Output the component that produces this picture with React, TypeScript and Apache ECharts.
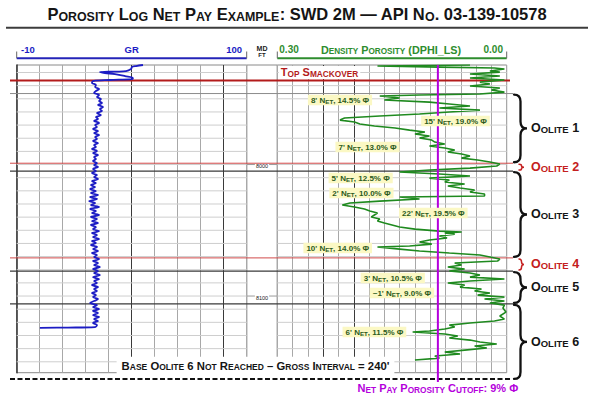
import React, { useEffect, useRef } from 'react';
import * as echarts from 'echarts';

// ---------------- DATA ----------------
const TITLE = 'Porosity Log Net Pay Example: SWD 2M — API No. 03-139-10578';
const GR_MIN = -10;
const GR_MAX = 100;
const PHI_MIN = 0;
const PHI_MAX = 0.3;
const DEPTH_TOP = 7924.3;
const DEPTH_BASE = 8158.3;
const TD_DEPTH = 8163;
const CUTOFF_PHI = 0.09;

const GRID_DEPTHS = [7930, 7940, 7950, 7960, 7970, 7980, 7990, 8000, 8010, 8020, 8030, 8040, 8050, 8060, 8070, 8080, 8090, 8100, 8110, 8120, 8130, 8140, 8150];
const MD_LABEL_DEPTHS = [8000, 8100];

const FORMATION_NAMES = ['Top Smackover', 'Oolite 1', 'Oolite 2', 'Oolite 3', 'Oolite 4', 'Oolite 5', 'Oolite 6'];
const FORMATION_TOPS = [7936, 7946, 7999, 8005, 8071, 8081, 8106];

const NET_PAY_TEXT = ["8' Net, 14.5% Φ", "15' Net, 19.0% Φ", "7' Net, 13.0% Φ", "5' Net, 12.5% Φ", "2' Net, 10.0% Φ", "22' Net, 19.5% Φ", "10' Net, 14.0% Φ", "3' Net, 10.5% Φ", "~1' Net, 9.0% Φ", "6' Net, 11.5% Φ"];
const NET_PAY_LABEL_PHI = [0.218, 0.067, 0.182, 0.191, 0.190, 0.096, 0.221, 0.149, 0.137, 0.173];
const NET_PAY_LABEL_DEPTH = [7950.9, 7966.9, 7986.7, 8010.3, 8021.7, 8036.9, 8063.5, 8086.3, 8097.7, 8127.4];

// Gamma ray: [depth ft, GR API]
const GR_CURVE: [number, number][] = [
  [7924.3, 50.4], [7925.1, 47.1], [7925.9, 45.1], [7927.4, 44.7], [7928.9, 42.3], [7929.7, 29.8], [7930.4, 32.2], [7931.2, 37.0], [7932.7, 41.8], [7934.2, 45.6], [7935.0, 45.1], [7935.7, 34.6], [7936.5, 26.5],
  [7938.0, 26.0], [7939.5, 27.9], [7941.1, 27.5], [7942.6, 29.4], [7944.1, 27.9], [7945.6, 27.0], [7947.1, 29.4], [7948.7, 28.4], [7950.2, 30.3], [7951.7, 29.4], [7953.2, 30.8], [7954.7, 28.9], [7956.3, 31.3], [7957.8, 29.8], [7959.3, 30.8], [7960.8, 28.4], [7962.4, 30.3], [7963.9, 27.9], [7965.4, 28.9], [7966.9, 27.0], [7968.4, 29.4], [7970.0, 27.5], [7971.5, 28.4], [7973.0, 26.5], [7974.5, 28.9], [7976.1, 27.0], [7977.6, 29.4], [7979.1, 27.5], [7980.6, 28.4], [7982.1, 26.5], [7983.7, 28.9], [7985.2, 27.0], [7986.7, 27.9], [7988.2, 26.0], [7989.7, 28.4], [7991.3, 26.5], [7992.8, 28.9], [7994.3, 27.0], [7995.8, 27.9], [7997.3, 26.5], [7998.9, 28.4],
  [8000.4, 27.0], [8001.9, 28.9], [8003.4, 26.5], [8005.0, 27.9], [8006.5, 26.0], [8008.0, 28.4], [8009.5, 27.0], [8011.0, 28.9], [8012.6, 26.0], [8014.1, 27.9], [8015.6, 25.5], [8017.1, 27.5], [8018.6, 25.1], [8020.2, 27.9], [8021.7, 25.5], [8023.2, 28.9], [8024.7, 25.1], [8026.2, 28.4], [8027.8, 24.6], [8029.3, 27.5], [8030.8, 25.5], [8032.3, 29.4], [8033.8, 25.1], [8035.4, 27.9], [8036.9, 26.0], [8038.4, 29.4], [8039.9, 25.5], [8041.4, 28.4], [8043.0, 26.0], [8044.5, 28.9], [8046.0, 25.5], [8047.5, 27.9], [8049.1, 26.5], [8050.6, 29.4],
  [8052.1, 26.0], [8053.6, 28.4], [8055.1, 26.5], [8056.7, 29.4], [8058.2, 26.0], [8059.7, 27.9], [8061.2, 25.5], [8062.7, 28.4], [8064.3, 26.5], [8065.8, 28.9], [8067.3, 26.0], [8068.8, 28.4], [8070.3, 27.0], [8071.9, 29.4], [8073.4, 26.5], [8074.9, 28.9], [8076.4, 27.0], [8077.9, 29.8], [8079.5, 26.5], [8081.0, 28.9], [8082.5, 27.0], [8084.0, 29.8], [8085.6, 26.5], [8087.1, 29.4], [8088.6, 27.0], [8090.1, 28.4], [8091.6, 26.0], [8093.2, 28.9], [8094.7, 27.0], [8096.2, 28.4], [8097.7, 26.0], [8099.3, 27.9],
  [8100.8, 26.5], [8102.3, 28.9], [8103.8, 27.0], [8105.3, 25.1], [8106.9, 28.4], [8108.4, 26.5], [8109.9, 29.4], [8111.4, 26.5], [8112.9, 28.9], [8114.5, 26.5], [8116.0, 29.4], [8117.5, 27.0], [8119.0, 28.9], [8120.5, 26.5], [8122.1, 28.4], [8123.6, 27.5], [8124.0, 14.5], [8124.2, 1.1],
];

// Density porosity (DPHI_LS), fraction
const DPHI_DEPTH = [
  7924.3, 7925.1, 7925.9, 7926.6, 7927.4, 7928.9, 7929.7, 7931.2, 7932.7, 7934.2, 7935.7, 7937.3, 7938.8, 7940.3, 7941.8, 7943.3, 7944.9, 7946.4, 7947.1, 7947.9,
  7949.4, 7950.9, 7952.5, 7954.0, 7955.5, 7957.0, 7958.6, 7960.1, 7961.6, 7963.1, 7964.6, 7966.2, 7967.7, 7969.2, 7970.7, 7972.2, 7973.8, 7975.3, 7976.8, 7978.3,
  7979.8, 7981.4, 7982.9, 7984.4, 7985.9, 7987.4, 7989.0, 7990.5, 7992.0, 7993.5, 7995.1, 7996.6, 7998.1, 7999.6, 8001.1, 8002.7, 8004.2, 8005.7, 8007.2, 8008.7,
  8010.3, 8011.8, 8013.3, 8014.8, 8016.3, 8017.9, 8019.4, 8020.9, 8022.4, 8023.9, 8024.7, 8026.2, 8027.8, 8029.3, 8030.8, 8032.3, 8033.8, 8035.4, 8036.9, 8038.4,
  8039.9, 8041.4, 8043.0, 8044.5, 8046.0, 8047.5, 8049.1, 8050.6, 8051.3, 8052.1, 8052.9, 8054.4, 8055.9, 8057.4, 8058.9, 8060.5, 8062.0, 8062.7, 8064.3, 8065.8,
  8067.3, 8068.8, 8070.3, 8071.9, 8073.4, 8074.9, 8076.4, 8077.9, 8079.5, 8081.0, 8082.5, 8084.0, 8085.6, 8087.1, 8088.6, 8090.1, 8091.6, 8093.2, 8094.7, 8096.2,
  8097.7, 8099.3, 8100.8, 8102.3, 8103.8, 8105.3, 8106.9, 8109.1, 8112.2, 8115.2, 8117.5, 8119.0, 8120.5, 8122.1, 8123.6, 8125.1, 8126.6, 8127.4, 8128.9, 8130.4,
  8131.9, 8133.5, 8135.0, 8136.5, 8138.0, 8139.5, 8141.1, 8142.6, 8144.1, 8145.6, 8147.2, 8148.7,
];
const DPHI_VALUE = [
  0.048, 0.169, 0.088, 0.016, 0.003, 0.022, 0.009, 0.048, 0.009, 0.048, 0.003, 0.035, 0.022, 0.048, 0.009, 0.020, 0.003, 0.035, 0.114, 0.166,
  0.140, 0.160, 0.101, 0.075, 0.048, 0.088, 0.035, 0.075, 0.114, 0.166, 0.212, 0.218, 0.199, 0.192, 0.173, 0.146, 0.127, 0.107, 0.120, 0.101,
  0.114, 0.098, 0.094, 0.081, 0.101, 0.081, 0.068, 0.077, 0.059, 0.048, 0.059, 0.038, 0.022, 0.009, 0.013, 0.048, 0.101, 0.140, 0.088, 0.048,
  0.101, 0.075, 0.081, 0.055, 0.077, 0.061, 0.042, 0.048, 0.029, 0.029, 0.140, 0.114, 0.166, 0.205, 0.215, 0.199, 0.186, 0.179, 0.169, 0.173,
  0.177, 0.166, 0.169, 0.160, 0.150, 0.140, 0.120, 0.088, 0.059, 0.081, 0.068, 0.088, 0.078, 0.101, 0.114, 0.098, 0.127, 0.169, 0.140, 0.114,
  0.075, 0.035, 0.022, 0.009, 0.012, 0.068, 0.059, 0.077, 0.055, 0.075, 0.048, 0.035, 0.048, 0.003, 0.048, 0.077, 0.055, 0.061, 0.033, 0.042,
  0.022, 0.038, 0.003, 0.029, 0.003, 0.022, 0.003, 0.005, 0.001, 0.009, 0.003, 0.016, 0.048, 0.075, 0.068, 0.081, 0.101, 0.123, 0.081, 0.064,
  0.075, 0.048, 0.035, 0.013, 0.042, 0.026, 0.055, 0.081, 0.061, 0.094, 0.088, 0.120,
];

// ---------------- LAYOUT / STYLE ----------------
const GR_LEFT = 16.7;
const GR_W = 230;
const MD_W = 30.6;
const DEN_W = 229.4;
const TRACK_TOP = 65;
const TRACK_H = 307.7;
const MD_LEFT = GR_LEFT + GR_W;
const DEN_LEFT = MD_LEFT + MD_W;
const DEN_RIGHT = DEN_LEFT + DEN_W;
const LINE_LEFT = 10;
const LINE_RIGHT = 513;
const HEADER_LINE_Y = 58.3;
const HEADER_TEXT_Y = 49.8;

const FONT = "'Liberation Sans', Arial, Helvetica, sans-serif";
const GR_COLOR = '#1c1cc4';
const DEN_COLOR = '#1f8a1f';
const HEAD_GREEN = '#2e8d2e';
const RED = '#b31b1b';
const LIGHT_RED = '#d24a4a';
const MAGENTA = '#b400dc';
const LABEL_GREEN = '#2b5a1c';

function sc(text: string): string {
  let out = '';
  let cur = '';
  let mode = '';
  for (const ch of text) {
    const lower = ch !== ch.toUpperCase();
    const m = lower ? 's' : 'b';
    const c = lower ? ch.toUpperCase() : ch;
    if (m !== mode) {
      if (cur) out += `{${mode}|${cur}}`;
      cur = '';
      mode = m;
    }
    cur += c;
  }
  if (cur) out += `{${mode}|${cur}}`;
  return out;
}

function caps(big: number, small: number, color: string) {
  return {
    b: { fontSize: big, fontWeight: 'bold', fontFamily: FONT, fill: color, color, lineHeight: big, verticalAlign: 'bottom' },
    s: { fontSize: small, fontWeight: 'bold', fontFamily: FONT, fill: color, color, lineHeight: 0.307 * big + 0.693 * small, verticalAlign: 'bottom' },
  };
}

function bracePath(x0: number, x1: number, yt: number, yb: number): string {
  const ym = (yt + yb) / 2;
  const xs = (x0 + x1) / 2;
  const r = Math.min(7, (yb - yt) / 4);
  return `M${x0},${yt} Q${xs},${yt} ${xs},${yt + r} L${xs},${ym - r} Q${xs},${ym} ${x1},${ym} Q${xs},${ym} ${xs},${ym + r} L${xs},${yb - r} Q${xs},${yb} ${x0},${yb}`;
}

function formationStyle(name: string) {
  if (name === 'Top Smackover') return { color: RED, width: 2, right: 510 };
  if (name === 'Oolite 1') return { color: '#8c8c8c', width: 1, right: LINE_RIGHT };
  if (name === 'Oolite 2' || name === 'Oolite 4') return { color: LIGHT_RED, width: 1, right: LINE_RIGHT };
  return { color: '#3a3a3a', width: 1.3, right: LINE_RIGHT };
}

function headerText(x: number, text: string, align: string, color: string, size: number) {
  return {
    type: 'text', x, y: HEADER_TEXT_Y, z: 100,
    style: { text, fill: color, font: `bold ${size}px ${FONT}`, align, textAlign: align, verticalAlign: 'middle', textVerticalAlign: 'middle' },
  };
}

function hline(x1: number, x2: number, y: number, stroke: string, lineWidth: number, lineDash?: number[]) {
  return { type: 'line', z: 100, shape: { x1, y1: y, x2, y2: y }, style: { stroke, lineWidth, lineDash } };
}
function vline(x: number, y1: number, y2: number, stroke: string, lineWidth: number) {
  return { type: 'line', z: 100, shape: { x1: x, y1, x2: x, y2 }, style: { stroke, lineWidth } };
}

const grSplitColors = ['#a8a8a8', '#a8a8a8', '#a8a8a8', '#a8a8a8', '#a8a8a8', '#3a3a3a', '#a8a8a8', '#a8a8a8', '#a8a8a8', '#3a3a3a', '#a8a8a8'];
const denSplitColors = ['#a8a8a8', '#a8a8a8', '#a8a8a8', '#3a3a3a', '#a8a8a8', '#3a3a3a', '#a8a8a8', '#a8a8a8', '#a8a8a8', '#a8a8a8', '#a8a8a8', '#a8a8a8', '#a8a8a8', '#a8a8a8', '#a8a8a8', '#a8a8a8'];

function buildOption(): any {
  const gridBase = { top: TRACK_TOP, height: TRACK_H, show: true, borderColor: '#8a8a8a', borderWidth: 1, containLabel: false, outerBoundsMode: 'none' };
  const hidden = { axisLine: { show: false }, axisTick: { show: false }, axisLabel: { show: false }, splitLine: { show: false } };
  const yAx = (gridIndex: number, extra: any = {}) => ({
    gridIndex, type: 'value', inverse: true, min: DEPTH_TOP, max: DEPTH_BASE, ...hidden, ...extra,
  });

  const hgridRender = (params: any, api: any) => {
    const cs = params.coordSys;
    const y = api.coord([api.value(0), api.value(1)])[1];
    return { type: 'line', silent: true, shape: { x1: cs.x, y1: y, x2: cs.x + cs.width, y2: y }, style: { stroke: '#cecece', lineWidth: 1 } };
  };

  return {
    animation: false,
    backgroundColor: '#ffffff',
    grid: [
      { ...gridBase, left: GR_LEFT, width: GR_W },
      { ...gridBase, left: MD_LEFT, width: MD_W },
      { ...gridBase, left: DEN_LEFT, width: DEN_W },
    ],
    xAxis: [
      { gridIndex: 0, type: 'value', min: GR_MIN, max: GR_MAX, ...hidden },
      { gridIndex: 0, type: 'value', min: 0, max: 10, interval: 1, axisLine: { show: false }, axisTick: { show: false }, axisLabel: { show: false }, splitLine: { show: true, lineStyle: { color: grSplitColors, width: 1 } } },
      { gridIndex: 1, type: 'value', min: 0, max: 1, ...hidden },
      { gridIndex: 2, type: 'value', min: PHI_MIN, max: PHI_MAX, inverse: true, ...hidden },
      { gridIndex: 2, type: 'value', min: 0, max: 15, interval: 1, axisLine: { show: false }, axisTick: { show: false }, axisLabel: { show: false }, splitLine: { show: true, lineStyle: { color: denSplitColors, width: 1 } } },
    ],
    yAxis: [
      yAx(0, { axisLine: { show: true, onZero: false, lineStyle: { color: '#333', width: 1.5 } } }),
      yAx(1),
      yAx(2),
    ],
    graphic: [
      {
        type: 'text', x: 297, y: 14.5, z: 100,
        style: { text: sc(TITLE), rich: caps(16.5, 12.4, '#151515'), align: 'center', textAlign: 'center', verticalAlign: 'middle', textVerticalAlign: 'middle' },
      },
      hline(6, 588, 27.8, '#3c3c3c', 2),
      headerText(21, '-10', 'left', GR_COLOR, 9.5),
      headerText(131.7, 'GR', 'center', GR_COLOR, 9.5),
      headerText(242, '100', 'right', GR_COLOR, 9.5),
      hline(GR_LEFT, MD_LEFT, HEADER_LINE_Y, '#2424b8', 2),
      vline(GR_LEFT, 51.5, HEADER_LINE_Y, '#666', 1),
      vline(MD_LEFT, 51.5, HEADER_LINE_Y, '#666', 1),
      { type: 'text', x: 262, y: 48.8, z: 100, style: { text: 'MD', fill: '#222', font: `bold 7px ${FONT}`, align: 'center', textAlign: 'center', verticalAlign: 'middle', textVerticalAlign: 'middle' } },
      { type: 'text', x: 262, y: 55.2, z: 100, style: { text: 'FT', fill: '#222', font: `bold 6px ${FONT}`, align: 'center', textAlign: 'center', verticalAlign: 'middle', textVerticalAlign: 'middle' } },
      headerText(279.3, '0.30', 'left', HEAD_GREEN, 10),
      {
        type: 'text', x: 391, y: HEADER_TEXT_Y, z: 100,
        style: { text: sc('Density Porosity (DPHI_LS)'), rich: caps(10.8, 8.2, HEAD_GREEN), align: 'center', textAlign: 'center', verticalAlign: 'middle', textVerticalAlign: 'middle' },
      },
      headerText(503, '0.00', 'right', HEAD_GREEN, 10),
      hline(DEN_LEFT, DEN_RIGHT, HEADER_LINE_Y, HEAD_GREEN, 2),
      vline(DEN_LEFT, 51.5, HEADER_LINE_Y, '#666', 1),
      vline(DEN_RIGHT, 51.5, HEADER_LINE_Y, '#666', 1),
      {
        type: 'text', x: 255.5, y: 365.5, z: 100,
        style: {
          text: sc("Base Oolite 6 Not Reached – Gross Interval = 240'"), rich: caps(11.3, 8.5, '#151515'),
          align: 'center', textAlign: 'center', verticalAlign: 'middle', textVerticalAlign: 'middle',
          backgroundColor: '#ffffff', padding: [3, 5, 3, 5],
        },
      },
    ],
    series: [
      // horizontal depth grid, GR track
      { type: 'custom', xAxisIndex: 0, yAxisIndex: 0, silent: true, z: 1, data: GRID_DEPTHS.map((d) => [0, d]), renderItem: hgridRender },
      // horizontal depth grid, density track
      { type: 'custom', xAxisIndex: 3, yAxisIndex: 2, silent: true, z: 1, data: GRID_DEPTHS.map((d) => [0.1, d]), renderItem: hgridRender },
      // MD labels
      {
        type: 'custom', xAxisIndex: 2, yAxisIndex: 1, silent: true, z: 2,
        data: MD_LABEL_DEPTHS.map((d) => [0.5, d]),
        renderItem: (params: any, api: any) => {
          const cs = params.coordSys;
          const p = api.coord([api.value(0), api.value(1)]);
          return {
            type: 'group',
            children: [
              { type: 'line', shape: { x1: cs.x, y1: p[1], x2: cs.x + cs.width, y2: p[1] }, style: { stroke: '#9a9a9a', lineWidth: 1 } },
              { type: 'text', x: p[0], y: p[1] + 1.5, style: { text: String(api.value(1)), fill: '#222', font: `5.5px ${FONT}`, align: 'center', textAlign: 'center', verticalAlign: 'middle', textVerticalAlign: 'middle', backgroundColor: '#fff', padding: [0, 1] } },
            ],
          };
        },
      },
      // formation tops
      {
        type: 'custom', xAxisIndex: 0, yAxisIndex: 0, silent: true, z: 3,
        data: FORMATION_TOPS.map((d, i) => [0, d, i]),
        renderItem: (params: any, api: any) => {
          const name = FORMATION_NAMES[api.value(2)];
          const y = api.coord([0, api.value(1)])[1];
          const st = formationStyle(name);
          const children: any[] = [
            { type: 'line', shape: { x1: LINE_LEFT, y1: y, x2: st.right, y2: y }, style: { stroke: st.color, lineWidth: st.width } },
          ];
          if (name === 'Top Smackover') {
            children.push({
              type: 'text', x: DEN_LEFT + 1.5, y: y - 8,
              style: { text: sc(name), rich: caps(11, 8.3, RED), align: 'left', textAlign: 'left', verticalAlign: 'middle', textVerticalAlign: 'middle', backgroundColor: '#fff', padding: [1, 2, 1, 2] },
            });
          }
          return { type: 'group', children };
        },
      },
      // TD dashed line
      {
        type: 'custom', xAxisIndex: 0, yAxisIndex: 0, silent: true, z: 3,
        data: [[0, TD_DEPTH]],
        renderItem: (params: any, api: any) => {
          const y = api.coord([0, api.value(1)])[1];
          return { type: 'line', shape: { x1: LINE_LEFT, y1: y, x2: 512, y2: y }, style: { stroke: '#111', lineWidth: 2, lineDash: [5, 2.5] } };
        },
      },
      // GR curve
      {
        type: 'line', name: 'GR', xAxisIndex: 0, yAxisIndex: 0, z: 4, showSymbol: false, symbol: 'none', smooth: 0.35,
        data: GR_CURVE.map(([d, v]) => [v, d]),
        lineStyle: { color: GR_COLOR, width: 1.8 },
      },
      // Density porosity curve
      {
        type: 'line', name: 'DPHI_LS', xAxisIndex: 3, yAxisIndex: 2, z: 4, showSymbol: false, symbol: 'none',
        data: DPHI_DEPTH.map((d, i) => [DPHI_VALUE[i], d]),
        lineStyle: { color: DEN_COLOR, width: 1.6 },
      },
      // Net pay cutoff
      {
        type: 'custom', xAxisIndex: 3, yAxisIndex: 2, silent: true, z: 5,
        data: [[CUTOFF_PHI, TD_DEPTH]],
        renderItem: (params: any, api: any) => {
          const cs = params.coordSys;
          const p = api.coord([api.value(0), api.value(1)]);
          return {
            type: 'group',
            children: [
              { type: 'line', shape: { x1: p[0], y1: cs.y, x2: p[0], y2: p[1] + 3 }, style: { stroke: MAGENTA, lineWidth: 2 } },
              {
                type: 'text', x: p[0], y: p[1] + 9.5,
                style: { text: sc('Net Pay Porosity Cutoff: 9% Φ'), rich: caps(11, 8.3, MAGENTA), align: 'center', textAlign: 'center', verticalAlign: 'middle', textVerticalAlign: 'middle' },
              },
            ],
          };
        },
      },
      // Net pay labels
      {
        type: 'custom', xAxisIndex: 3, yAxisIndex: 2, silent: true, z: 6,
        data: NET_PAY_TEXT.map((t, i) => [NET_PAY_LABEL_PHI[i], NET_PAY_LABEL_DEPTH[i], i]),
        renderItem: (params: any, api: any) => {
          const p = api.coord([api.value(0), api.value(1)]);
          return {
            type: 'text', x: p[0], y: p[1],
            style: {
              text: sc(NET_PAY_TEXT[api.value(2)]), rich: caps(8, 6.2, LABEL_GREEN),
              align: 'center', textAlign: 'center', verticalAlign: 'middle', textVerticalAlign: 'middle',
              backgroundColor: '#fbf8c4', padding: [1.5, 3, 1, 3],
            },
          };
        },
      },
      // Oolite braces and names
      {
        type: 'custom', xAxisIndex: 3, yAxisIndex: 2, silent: true, z: 6,
        data: FORMATION_TOPS.slice(1).map((d, i) => [0, d, i + 1 < FORMATION_TOPS.length - 1 ? FORMATION_TOPS[i + 2] : TD_DEPTH, i + 1]),
        renderItem: (params: any, api: any) => {
          const idx = api.value(3);
          const name = FORMATION_NAMES[idx];
          const yt0 = api.coord([0, api.value(1)])[1];
          const yb0 = api.coord([0, api.value(2)])[1];
          const isLast = idx === FORMATION_NAMES.length - 1;
          const yt = yt0 + 1;
          const yb = isLast ? yb0 : yb0 - 1;
          const small = yb - yt < 16;
          const red = name === 'Oolite 2' || name === 'Oolite 4';
          const color = red ? '#c42020' : '#111';
          const x0 = small ? 519 : 514;
          const x1 = small ? 524 : 527;
          const ym = (yt + yb) / 2;
          return {
            type: 'group',
            children: [
              { type: 'path', shape: { pathData: bracePath(x0, x1, yt, yb) }, style: { stroke: color, lineWidth: small ? 1.5 : 2.3, fill: 'none', lineCap: 'round' } },
              {
                type: 'text', x: 531, y: ym,
                style: { text: sc(name), rich: caps(12.5, 9.5, red ? '#c42020' : '#151515'), align: 'left', textAlign: 'left', verticalAlign: 'middle', textVerticalAlign: 'middle' },
              },
            ],
          };
        },
      },
    ],
  };
}

export default function App() {
  const ref = useRef<HTMLDivElement>(null);
  useEffect(() => {
    if (!ref.current) return;
    const chart = echarts.init(ref.current, null, { renderer: 'svg' });
    chart.setOption(buildOption());
    return () => chart.dispose();
  }, []);
  return <div ref={ref} style={{ position: 'absolute', left: 0, top: 0, width: 590, height: 398, background: '#fff' }} />;
}
